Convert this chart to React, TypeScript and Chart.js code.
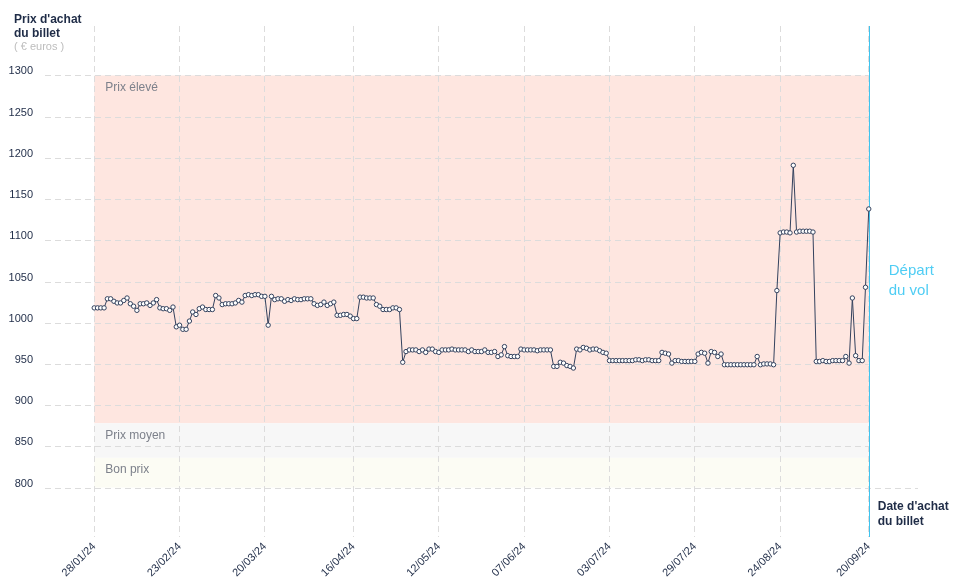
import { useEffect, useRef } from 'react'
import { Chart, registerables } from 'chart.js'

Chart.register(...registerables)

// Prix du billet, un point par jour depuis le 28/01/24
const prices = [
  1018, 1018, 1018, 1018, 1029, 1029, 1026, 1024, 1024, 1027,
  1030, 1023, 1020, 1015, 1023, 1023, 1024, 1021, 1024, 1028,
  1018, 1017, 1017, 1015, 1019, 995, 997, 992, 992, 1002,
  1013, 1010, 1017, 1019, 1016, 1016, 1016, 1033, 1030, 1022,
  1023, 1023, 1023, 1024, 1027, 1025, 1033, 1034, 1033, 1034,
  1034, 1032, 1032, 997, 1032, 1028, 1029, 1029, 1026, 1028,
  1027, 1029, 1028, 1028, 1029, 1029, 1029, 1023, 1021, 1022,
  1025, 1021, 1023, 1025, 1009, 1009, 1010, 1010, 1008, 1005,
  1005, 1031, 1031, 1030, 1030, 1030, 1022, 1020, 1016, 1016,
  1016, 1018, 1018, 1016, 952, 965, 967, 967, 967, 965,
  967, 964, 968, 968, 965, 964, 967, 967, 967, 968,
  967, 967, 967, 967, 965, 967, 965, 965, 965, 967,
  964, 964, 965, 959, 961, 971, 960, 959, 959, 959,
  968, 967, 967, 967, 967, 966, 967, 967, 967, 967,
  947, 947, 952, 951, 948, 947, 945, 968, 967, 970,
  969, 967, 968, 968, 966, 964, 963, 954, 954, 954,
  954, 954, 954, 954, 954, 955, 955, 954, 955, 955,
  954, 954, 954, 964, 963, 962, 951, 954, 954, 953,
  953, 953, 953, 953, 962, 964, 963, 951, 965, 964,
  959, 962, 949, 949, 949, 949, 949, 949, 949, 949,
  949, 949, 959, 949, 950, 950, 950, 949, 1039, 1109,
  1110, 1110, 1109, 1191, 1110, 1111, 1111, 1111, 1111, 1110,
  953, 953, 954, 953, 953, 954, 954, 954, 954, 959,
  951, 1030, 960, 954, 954, 1043, 1138
]

// Jours (depuis le 28/01/24) et libellés de l'axe des dates
const tickDays = [0, 26, 52, 79, 105, 131, 157, 183, 209, 236]
const tickLabels = [
  '28/01/24', '23/02/24', '20/03/24', '16/04/24', '12/05/24',
  '07/06/24', '03/07/24', '29/07/24', '24/08/24', '20/09/24'
]
const priceTicks = [800, 850, 900, 950, 1000, 1050, 1100, 1150, 1200, 1250, 1300]

// Zones de prix
const bandNames = ['Prix élevé', 'Prix moyen', 'Bon prix']
const bandTops = [1300, 878, 836]
const bandBottoms = [878, 836, 800]
const bandColors = ['#fee6e0', '#f7f7f7', '#fcfcf4']

const departureDay = 236

const NAVY = '#1f2c47'
const FONT = '"Liberation Sans", Arial, sans-serif'

export default function App() {
  const chartRef = useRef<HTMLCanvasElement>(null)
  const chartInstance = useRef<Chart | null>(null)

  useEffect(() => {
    if (!chartRef.current) return
    const ctx = chartRef.current.getContext('2d')
    if (!ctx) return

    if (chartInstance.current) {
      chartInstance.current.destroy()
    }

    Chart.defaults.font.family = FONT

    const bandsPlugin = {
      id: 'bands',
      beforeDraw(chart: any) {
        const { ctx, scales: { x, y } } = chart
        const x0 = x.getPixelForValue(0)
        const x1 = x.getPixelForValue(departureDay)
        ctx.save()
        bandNames.forEach((name, i) => {
          const top = y.getPixelForValue(bandTops[i])
          const bottom = y.getPixelForValue(bandBottoms[i])
          ctx.fillStyle = bandColors[i]
          ctx.fillRect(x0, top, x1 - x0, bottom - top)
          ctx.fillStyle = '#7d818b'
          ctx.font = `12px ${FONT}`
          ctx.textBaseline = 'top'
          ctx.fillText(name, x0 + 11, top + 6)
        })
        ctx.restore()
      },
      beforeDatasetsDraw(chart: any) {
        const { ctx, chartArea, scales: { x, y } } = chart
        const xEnd = x.getPixelForValue(departureDay)
        ctx.save()
        // lignes horizontales
        ctx.strokeStyle = '#dcdcdc'
        ctx.lineWidth = 1
        ctx.setLineDash([6, 4])
        priceTicks.forEach(v => {
          const py = Math.round(y.getPixelForValue(v)) + 0.5
          ctx.beginPath()
          ctx.moveTo(chartArea.left, py)
          ctx.lineTo(v === 800 ? chartArea.right : xEnd, py)
          ctx.stroke()
        })
        // date de départ
        ctx.setLineDash([])
        ctx.strokeStyle = '#3ec3ef'
        ctx.beginPath()
        ctx.moveTo(Math.round(xEnd) + 0.5, chartArea.top)
        ctx.lineTo(Math.round(xEnd) + 0.5, chartArea.bottom)
        ctx.stroke()
        ctx.restore()
      },
      afterDraw(chart: any) {
        const { ctx, chartArea, scales: { x } } = chart
        const xEnd = x.getPixelForValue(departureDay)
        ctx.save()
        ctx.textBaseline = 'alphabetic'
        ctx.fillStyle = NAVY
        ctx.font = `bold 12px ${FONT}`
        ctx.fillText("Prix d'achat", 14, 23)
        ctx.fillText('du billet', 14, 37)
        ctx.fillStyle = '#bdbdbd'
        ctx.font = `11px ${FONT}`
        ctx.fillText('( € euros )', 14, 50)

        ctx.fillStyle = NAVY
        ctx.font = `bold 12px ${FONT}`
        ctx.fillText("Date d'achat", xEnd + 9, chartArea.bottom - 27)
        ctx.fillText('du billet', xEnd + 9, chartArea.bottom - 12)

        ctx.fillStyle = '#4fcdf4'
        ctx.font = `15px ${FONT}`
        ctx.fillText('Départ', xEnd + 20, 275)
        ctx.fillText('du vol', xEnd + 20, 295)
        ctx.restore()
      }
    }

    chartInstance.current = new Chart(ctx, {
      type: 'line',
      data: {
        datasets: [
          {
            label: 'Prix',
            data: prices.map((p, i) => ({ x: i, y: p })),
            borderColor: '#34425e',
            borderWidth: 1,
            tension: 0,
            pointRadius: 2.2,
            pointBorderWidth: 1,
            pointBackgroundColor: '#ffffff',
            pointBorderColor: '#34425e'
          }
        ]
      },
      options: {
        animation: false,
        responsive: false,
        maintainAspectRatio: false,
        layout: {
          padding: { top: 26, right: 40, left: 0, bottom: 0 }
        },
        plugins: {
          legend: { display: false },
          title: { display: false },
          tooltip: { enabled: false }
        },
        scales: {
          x: {
            type: 'linear',
            min: -15,
            max: 251,
            afterBuildTicks: (axis: any) => {
              axis.ticks = tickDays.map(v => ({ value: v }))
            },
            afterFit: (axis: any) => {
              axis.height = 48
            },
            ticks: {
              autoSkip: false,
              minRotation: 45,
              maxRotation: 45,
              padding: 3,
              color: NAVY,
              font: { size: 11 },
              callback: function(value: any) {
                const i = tickDays.indexOf(Number(value))
                return i >= 0 ? tickLabels[i] : ''
              }
            },
            grid: {
              color: '#dcdcdc',
              drawTicks: false
            },
            border: { display: false, dash: [6, 4] }
          },
          y: {
            type: 'linear',
            min: 740,
            max: 1360,
            afterBuildTicks: (axis: any) => {
              axis.ticks = priceTicks.map(v => ({ value: v }))
            },
            afterFit: (axis: any) => {
              axis.width = 45
            },
            ticks: {
              padding: 12,
              labelOffset: -4,
              color: NAVY,
              font: { size: 11 },
              callback: function(value: any) {
                return String(value)
              }
            },
            grid: { display: false, drawTicks: false },
            border: { display: false }
          }
        }
      },
      plugins: [bandsPlugin]
    })

    return () => {
      if (chartInstance.current) {
        chartInstance.current.destroy()
        chartInstance.current = null
      }
    }
  }, [])

  return (
    <div style={{ position: 'fixed', left: 0, top: 0, width: 958, height: 585, background: '#fff' }}>
      <canvas ref={chartRef} width={958} height={585} style={{ width: 958, height: 585 }}></canvas>
    </div>
  )
}
